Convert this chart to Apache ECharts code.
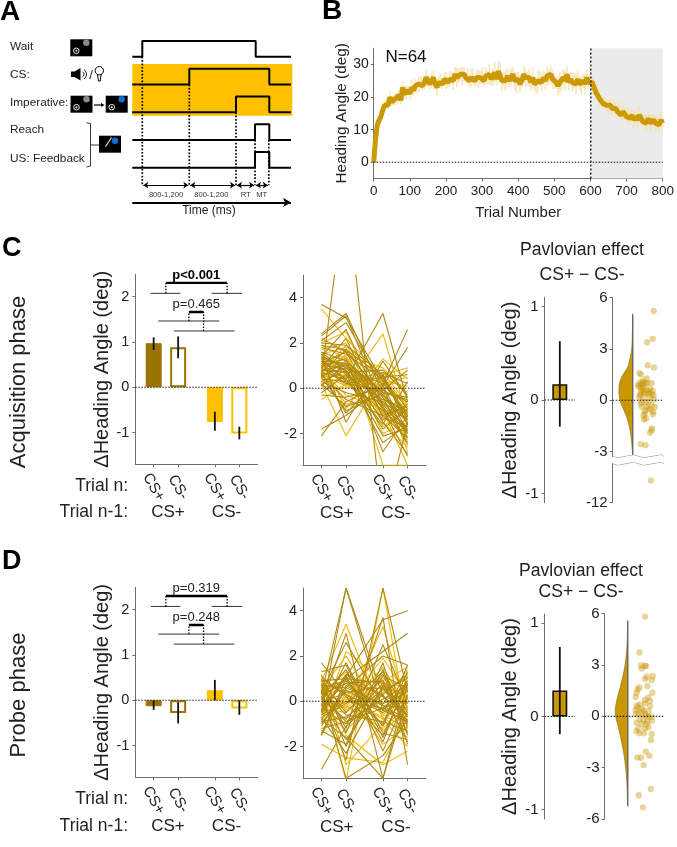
<!DOCTYPE html>
<html><head><meta charset="utf-8">
<style>html,body{margin:0;padding:0;background:#fff}#c{width:677px;height:847px}</style>
<script src="https://cdn.jsdelivr.net/npm/echarts@6/dist/echarts.min.js"></script>
</head><body><div id="c"></div>
<script>
// ---------- DATA ----------
const trialStep = 5;
const headingMean = [0,7,11.5,13,14,16,17.5,18,17.5,20,18.5,19,19.5,19,20.5,19,23,21,21.5,22,21,23,22,23.5,23,24,24.5,23.5,24.5,26,25,24,25,26,24,23,24.5,25,24,25.5,25,24.5,25.5,26,25,27,26,26.5,27,26.5,27,26,26.5,25,26,26.5,25,26,25.5,26,26.5,25,26.5,26,27,25.5,26,27.5,25.5,28,28.5,25,25.5,25,26.5,25,26,27,25,24.5,25.5,24,25,27,26,25.5,26,24.5,26,24,23.5,25,25.5,24.5,26,25,26.5,26,27,25.5,25,24.5,23.5,24.5,24,26,25,27,24.5,25.5,24.5,25,24,25.5,24,23.5,25,24,26,24.5,25,24.5,23,21.5,22,19.5,19,18,18.5,17.5,17,17.5,16.5,17,16.5,15.5,16,14.5,15.5,15,14,14.5,13.5,14.5,13,14,13,14.5,13.5,12.5,13,12,13.5,12,12.5,13,12,12.5,11.5,13,12];
const headingSem = [0,1,1.2,1,1.5,1.2,1,1.6,1.3,1.8,1.2,1.5,1.9,1.4,1.7,1.3,2,1.6,2.2,1.4,1.8,2.3,1.5,2,1.7,2.4,1.8,1.5,2.2,2.6,1.9,1.6,2.4,2,1.7,2.5,1.8,2.2,1.6,2.1,2.6,1.8,2.3,1.9,2.7,2.2,3,2.4,2,2.9,2.2,1.8,2.6,2,2.8,2.1,1.7,2.4,2.9,2,2.5,1.9,2.7,2.2,3,2.1,2.6,3.1,2,2.7,2.4,2.8,2.1,3.2,2.5,2,2.6,2.2,2.9,3.3,2.3,2.7,2,2.5,3,2.2,2.8,2.4,3.1,2,2.6,3.2,2.3,2.8,2.1,2.5,3,2.2,2.7,3.1,2.4,2,2.9,3.4,2.2,2.6,3,2.3,2.7,2.1,2.9,2.4,3.2,2.6,2,2.8,2.3,3,2.5,2.1,2.7,1.9,2.4,2,1.8,2.3,1.7,2.1,1.6,2,2.4,1.8,1.5,2.2,1.9,1.6,2.3,1.7,2.5,2,1.8,2.6,2.1,1.7,2.4,1.9,2.2,2.7,1.8,2.3,2,2.5,1.9,2.8,2.2,1.8,2.6,2,2.4,2.7,1.2];
const trialTicks = [0,100,200,300,400,500,600,700,800];
const headingTicks = [0,10,20,30];
const probeStart = 604, probeEnd = 800, phaseLine = 601;

const xPos = [1,2,3.5,4.5];
const catLabels = ['CS+','CS-','CS+','CS-'];
const acqMeans = [0.97,0.88,-0.77,-1.02];
const acqLow   = [0.82,0.64,-0.96,-1.15];
const acqHigh  = [1.10,1.12,-0.54,-0.87];
const probeMeans = [-0.13,-0.28,0.22,-0.18];
const probeLow   = [-0.21,-0.51,0,-0.32];
const probeHigh  = [0,-0.04,0.45,0];

const thinSegA = [[0.88,2.09,2.07],[3.37,4.62,2.07],[1.19,3.68,1.46],[1.82,4.3,1.24]];
const thickSegA = [[1.5,4,2.3],[2.44,3.04,1.66]];
const dropSegA = [[1.5,2.07,2.3],[4,2.07,2.3],[2.44,1.46,1.66],[3.04,1.24,1.66]];

const acqSubjects = [
[0.5,9,-6,-1.5],[3.7,3.1,0.3,-1.2],[3.5,2.2,0.5,-0.8],[2.4,3.3,-0.2,-2.0],[1.2,0.4,3.3,-0.6],[1.0,0.1,2.4,-1.3],
[-2.1,-0.6,0.2,2.6],[-1.8,-1.2,0.1,1.8],[0.2,-2.1,0.6,0.9],[2.3,3.2,-0.8,-2.4],[2.1,2.9,0.1,-1.9],[2.0,2.5,-1.0,-3.4],
[1.9,1.7,-0.4,-1.5],[1.8,1.5,0.4,-0.9],[1.7,2.0,-1.5,-2.6],[1.6,1.2,-0.2,-0.5],[1.5,0.6,-2.4,-1.6],[1.5,1.8,-3.4,-3.4],
[1.4,0.9,0.2,-1.1],[1.4,-1.5,1.2,-0.4],[1.3,1.4,-1.1,-2.1],[1.3,0.3,0.7,0.2],[1.2,1.1,-0.6,-1.8],[1.2,-0.9,1.3,0.4],
[1.1,0.8,-1.4,-0.7],[1.1,1.6,-0.3,-1.4],[1.0,0.5,0.1,-2.8],[1.0,1.3,-2.8,-1.2],[0.9,0.2,0.5,0.6],[0.9,-0.7,-0.5,-1.0],
[0.9,2.2,-1.3,-1.7],[0.8,0.7,0.8,-0.3],[0.8,-0.3,-0.9,-2.3],[0.8,1.0,-0.1,-0.6],[0.7,0.4,-1.6,0.3],[0.7,1.9,0.3,-1.3],
[0.7,-1.1,0.6,-1.6],[0.6,0.9,-0.7,-2.0],[0.6,0.1,0.2,0.5],[0.6,-0.5,-1.2,-0.8],[0.5,1.2,-0.4,-2.5],[0.5,0.6,0.4,-1.1],
[0.5,-1.0,-0.2,-0.4],[0.4,0.3,-1.0,-1.9],[0.4,1.5,0.9,-0.2],[0.3,-0.2,-0.6,-1.4],[0.3,0.8,-1.8,-0.9],[0.2,0.5,0.3,0.1],
[0.2,-0.8,-0.3,-1.2],[0.1,1.1,-0.9,-1.7],[0.1,0.0,0.7,-0.7],[-0.2,0.6,-0.5,-1.0],[-0.3,-0.4,0.0,-2.2],[-0.5,0.2,-1.1,-0.6],
[1.3,1.0,-1.5,-2.9],[1.6,0.7,-2.1,-1.8],[1.9,1.3,-0.7,-1.1],[2.2,1.6,-1.2,-2.2],[1.1,0.2,-0.1,0.8],[0.9,1.4,-2.0,-1.5],
[1.4,2.6,-0.9,-3.0],[0.7,1.7,0.5,-1.6],[1.2,0.8,-1.7,-0.9],[2.0,1.9,0.6,-1.4]];

const probeSubjects = [
[0.3,5.0,-0.4,-0.9],[-0.5,5.0,0.2,-0.6],[0.6,-3.5,5.0,-1.2],[0.2,-2.6,5.0,0.4],[1.7,0.3,-1.0,1.6],[0.9,3.4,-0.8,-2.0],
[-0.2,3.0,-3.4,0.8],[0.4,2.6,-0.2,-0.3],[-0.9,2.2,0.9,1.5],[0.8,-1.2,3.7,-2.8],[-0.4,1.1,3.6,4.0],[0.1,-0.3,3.3,-0.4],
[-1.5,1.0,2.2,3.0],[-1.4,0.6,2.0,1.6],[-1.9,-2.5,-2.7,-0.5],[-3.0,-1.1,0.3,-1.8],[0.5,-3.4,-2.4,-0.8],[1.2,-2.8,-1.0,0.6],
[0.7,-2.0,1.4,-1.5],[-0.8,-1.6,-3.4,0.2],[1.0,-1.5,-2.8,-2.2],[-0.6,1.1,-1.8,1.1],[0.3,0.8,0.9,-0.7],[-0.3,-0.5,1.0,0.5],
[0.9,1.0,0.8,-1.1],[-1.0,0.5,-0.4,0.9],[0.6,-0.2,-1.2,-0.2],[-0.1,0.4,0.6,-1.0],[0.2,-0.9,-0.3,0.7],[0.4,0.9,-0.6,0.3],
[-0.7,-0.1,1.3,-0.5],[1.1,0.2,-1.5,0.8],[-0.2,-1.3,0.4,1.1],[0.5,-0.6,-0.9,-1.3],[-0.5,1.2,0.2,-0.1],[0.8,-0.4,0.7,0.2],
[-1.1,0.7,-0.2,-0.8],[0.1,-0.8,1.1,0.6],[-0.4,0.1,-0.7,-1.6],[0.7,0.6,-0.1,0.4],[-0.9,-0.7,0.5,1.0],[0.3,1.3,-1.3,-0.4],
[-0.3,-1.0,0.8,-0.9],[1.0,0.3,-0.5,0.1],[-0.6,-0.2,1.5,-0.3],[0.2,1.0,-1.1,1.3],[-1.2,-0.9,0.1,0.7],[0.4,0.5,-1.9,-1.1],
[-0.1,-1.7,0.6,-0.6],[0.6,0.9,0.3,1.2],[-0.8,0.2,-0.8,0.0],[0.9,-0.5,1.2,-1.4],[-0.2,0.8,-0.4,0.5],[0.0,-0.3,0.9,-0.2],
[1.3,1.6,-1.6,0.9],[-1.3,-1.9,1.7,-1.9],[0.5,2.0,-0.6,-1.2],[-0.7,-2.3,0.7,-0.7],[0.2,1.4,-2.2,0.3],[-1.5,0.4,-0.1,1.4],
[0.8,-1.4,2.5,-0.1],[-0.4,1.7,-1.4,-1.7],[0.1,-0.1,1.9,0.2],[-0.6,0.0,-0.3,-0.9]];

const barDiffAcq = 0.17, barDiffAcqLow = -0.285, barDiffAcqHigh = 0.63;
const barDiffProbe = 0.28, barDiffProbeLow = -0.19, barDiffProbeHigh = 0.746;

const violinAcqY = [5,4,3,2.5,1.95,1.36,0.78,0,-0.6,-1.17,-1.75,-2.5,-3,-3.2];
const violinAcqW = [0,0.3,1,2.5,5,11,13.7,12.7,8.7,5,2.7,1,0.3,0];
const dotsAcqX = [41,40,34.3,35,41.3,26.7,28.3,34,30.7,28,25.7,29,34.7,39,27.3,31.3,37.3,29,40,32.3,35.7,39,27.3,30.7,36.7,40.7,28,33.3,39,42.3,29,35.7,32.3,40.7,30.7,40,33.3,31.3,39,37.3,28,32.7,38.3,25.7,30,34,37,26.7,29,34,38,32.3,35.7,31.3,28,33,30,41.3,39];
const dotsAcqY = [5.22,3.59,3.39,2.05,1.91,1.6,1.5,1.27,1.13,1.07,0.94,0.94,1.01,1.01,0.78,0.78,0.68,0.55,0.55,0.39,0.39,0.35,0.29,0.19,0.19,0.29,-0.19,-0.1,-0.29,-0.39,-0.39,-0.49,-0.62,-0.68,-0.88,-0.82,-1.07,-1.13,-1.66,-1.91,-2.57,-2.63,-10.7,0.82,0.68,0.58,0.49,0.19,-0.1,-0.39,-0.55,-0.78,-0.1,0.49,0.43,1.01,0.98,0.04,-1.76];

const violinProbeY = [5.54,4.27,3,1.93,1.15,0.47,0,-0.6,-1.4,-2.16,-2.94,-3.7,-4.5,-5.22];
const violinProbeW = [0,0.6,2.7,6.5,10,12.3,12,9.5,6.5,4,2.2,1,0.4,0];
const dotsProbeX = [40.3,34.7,36.3,37,40.3,41.3,40.3,48,42,47,42.7,34.7,33,32,31,47.7,43.7,40.3,45.3,35.3,32,33,40.3,45.3,31,31.3,33.7,37,40.3,43.7,47,32,38.7,37,42,33.7,40.3,43.7,34.7,39.3,47,46.3,41,44.7,32.7,36.3,39,46,34,38.3,37,41.3,44,47.3,35,39,31.7,42.5];
const dotsProbeY = [5.83,3.73,2.97,2.79,2.95,2.95,2.18,2.36,2.32,2.12,1.77,1.69,1.58,1.38,1.13,1.38,1.11,0.96,0.90,0.70,0.62,0.51,0.76,0.60,0.37,0.14,0.18,0.21,0.14,-0.02,-0.02,-0.37,-0.21,-0.45,-0.45,-0.70,-0.70,-0.64,-0.99,-0.99,-1.03,-1.38,-2.06,-2.30,-2.40,-2.42,-2.85,-4.24,-4.61,-5.32,0.45,0.05,0.30,-0.25,-0.15,0.35,-0.85,-0.30];

// Panel A timing (time in schematic units, rows numbered from top)
const tWait = [10,123.4], tCS = [57,137], tImp = [103.7,137], tReach = [122.7,137], tUS = [122.7,137];
const traceEnd = 158.7, stepHeight = 0.565;
const eventTimes = [10,57,103.7,122.7,136.5];
const eventRows = [1,2,3,4,4];

// ---------- STYLE ----------
const FONT = 'Liberation Sans';
const DARK = '#9B7300', AMBER = '#FFC000', GOLD = '#C99700', AXIS = '#6e6e6e', TXT = '#222';

const grids=[], xAxes=[], yAxes=[], series=[], gfx=[];
function addGrid(rect,x,y){
  grids.push(Object.assign({containLabel:false},rect));
  const i=grids.length-1;
  xAxes.push(Object.assign({gridIndex:i,type:'value',splitLine:{show:false}},x));
  yAxes.push(Object.assign({gridIndex:i,type:'value',splitLine:{show:false}},y));
  return i;
}
function seg(i,pts,color,width,type,z){
  series.push({type:'line',xAxisIndex:i,yAxisIndex:i,data:pts,symbol:'none',silent:true,z:z||3,animation:false,
    lineStyle:{color:color,width:width,type:type||'solid'}});
}
function errBars(i,xs,lows,highs,width){
  series.push({type:'custom',xAxisIndex:i,yAxisIndex:i,z:6,animation:false,silent:true,
    data:xs.map((x,k)=>[x,lows[k],highs[k]]),encode:{x:0,y:[1,2]},
    renderItem:(p,api)=>{const a=api.coord([api.value(0),api.value(1)]),b=api.coord([api.value(0),api.value(2)]);
      return {type:'line',shape:{x1:a[0],y1:a[1],x2:b[0],y2:b[1]},style:{stroke:'#111',lineWidth:width}};}});
}
function text(t,x,y,size,opt){
  gfx.push({type:'text',x:x,y:y,rotation:(opt&&opt.rot)||0,z:50,style:{text:t,fontFamily:FONT,fontSize:size,
    fontWeight:(opt&&opt.bold)?'bold':'normal',fill:(opt&&opt.fill)||TXT,
    textAlign:(opt&&opt.align)||'center',textVerticalAlign:'middle'}});
}
const axLine={show:true,onZero:false,lineStyle:{color:AXIS,width:1}};
const catLabel={fontFamily:FONT,fontSize:15,color:TXT,rotate:-60,align:'center',verticalAlign:'middle',margin:23,customValues:xPos,formatter:v=>catLabels[xPos.indexOf(v)]};

// ---------- PANEL A ----------
const gA=addGrid({left:132.3,top:28.95,width:160,height:180.4},
  {min:0,max:160,show:false},{min:0,max:6.5,inverse:true,show:false});
function traceOf(row,t){const b=row,h=row-stepHeight;
  return [[0,b],[t[0],b],[t[0],h],[t[1],h],[t[1],b],[traceEnd,b]];}
series.push({type:'line',xAxisIndex:gA,yAxisIndex:gA,data:traceOf(2,tCS),symbol:'none',animation:false,silent:true,z:3,
  lineStyle:{color:'#000',width:2},
  markArea:{silent:true,z:1,itemStyle:{color:AMBER,opacity:1},data:[[{coord:[-0.3,1.263]},{coord:[160,3.126]}]]}});
[[1,tWait],[3,tImp],[4,tReach],[5,tUS]].forEach(r=>seg(gA,traceOf(r[0],r[1]),'#000',2));
eventTimes.forEach((t,k)=>seg(gA,[[t,eventRows[k]],[t,5.63]],'#000',1.7,[1.7,1.7],4));
function arrowLine(x1,x2,r,syms,w,sz){
  series.push({type:'line',xAxisIndex:gA,yAxisIndex:gA,data:[],silent:true,animation:false,
    markLine:{silent:true,animation:false,symbol:syms,symbolSize:sz,label:{show:false},
      lineStyle:{color:'#000',width:w,type:'solid'},data:[[{coord:[x1,r]},{coord:[x2,r]}]]}});
}
for(let k=0;k<4;k++) arrowLine(eventTimes[k]+1,eventTimes[k+1]-1,5.63,['arrow','arrow'],1.2,[5,5]);
arrowLine(0,158.7,6.25,['none','arrow'],2,[7,8]);

// ---------- PANEL B ----------
const gB=addGrid({left:373.7,top:48.2,width:292.3,height:130.4},
  {min:0,max:800,name:'Trial Number',nameLocation:'middle',nameGap:27,nameTextStyle:{fontFamily:FONT,fontSize:15,color:TXT},
   axisLine:axLine,axisTick:{show:true,length:3,lineStyle:{color:AXIS},customValues:trialTicks},
   axisLabel:{fontFamily:FONT,fontSize:13.5,color:TXT,margin:6,customValues:trialTicks,showMinLabel:true,showMaxLabel:true}},
  {min:-5,max:35,name:'Heading Angle (deg)',nameLocation:'middle',nameGap:24,nameTextStyle:{fontFamily:FONT,fontSize:15.3,color:TXT},
   axisLine:axLine,axisTick:{show:true,length:3,lineStyle:{color:AXIS},customValues:headingTicks},
   axisLabel:{fontFamily:FONT,fontSize:14,color:TXT,margin:5,customValues:headingTicks}});
const trialX=headingMean.map((_,i)=>i*trialStep);
series.push({type:'custom',xAxisIndex:gB,yAxisIndex:gB,z:3,animation:false,silent:true,
  data:headingMean.map((m,i)=>[trialX[i],m-headingSem[i],m+headingSem[i]]),encode:{x:0,y:[1,2]},
  renderItem:(p,api)=>{const a=api.coord([api.value(0),api.value(1)]),b=api.coord([api.value(0),api.value(2)]);
    return {type:'line',shape:{x1:a[0],y1:a[1],x2:b[0],y2:b[1]},style:{stroke:'#f3e2ae',lineWidth:1.8,opacity:0.75}};},
  markArea:{silent:true,z:1,itemStyle:{color:'#ebebeb',opacity:1},data:[[{coord:[probeStart,-5]},{coord:[probeEnd,35]}]]}});
seg(gB,trialX.map((x,i)=>[x,headingMean[i]]),'#CC9A06',5,'solid',4);
seg(gB,[[0,0],[800,0]],'#111',1.1,[1.5,1.5],5);
seg(gB,[[phaseLine,-5],[phaseLine,35]],'#333',1.6,[2,2],5);
text('N=64',406,57.5,17,{fill:'#111'});

// ---------- PANELS C, D ----------
function barPanel(top,means,lows,highs){
  const i=addGrid({left:135.3,top:top,width:122.4,height:190},
    {min:0.25,max:5.25,axisLine:axLine,axisTick:{show:true,length:3,lineStyle:{color:AXIS},customValues:xPos},axisLabel:catLabel},
    {min:-1.7,max:2.49,name:'\u0394Heading Angle (deg)',nameLocation:'middle',nameGap:22,nameTextStyle:{fontFamily:FONT,fontSize:20,color:TXT},
     axisLine:axLine,axisTick:{show:true,length:3,lineStyle:{color:AXIS},customValues:[-1,0,1,2]},
     axisLabel:{fontFamily:FONT,fontSize:14.5,color:TXT,margin:6,customValues:[-1,0,1,2]}});
  const cols=[DARK,DARK,AMBER,AMBER], fill=[true,false,true,false];
  series.push({type:'bar',xAxisIndex:i,yAxisIndex:i,barWidth:16,z:3,animation:false,silent:true,
    data:means.map((m,k)=>({value:[xPos[k],m],itemStyle:fill[k]?{color:cols[k],borderColor:cols[k],borderWidth:1}:{color:'#fff',borderColor:cols[k],borderWidth:2}}))});
  errBars(i,xPos,lows,highs,1.8);
  seg(i,[[0.25,0],[5.25,0]],'#222',1.1,[1.5,1.5],5);
  thinSegA.forEach(s=>seg(i,[[s[0],s[2]],[s[1],s[2]]],'#333',1));
  thickSegA.forEach(s=>seg(i,[[s[0],s[2]],[s[1],s[2]]],'#000',2.4));
  dropSegA.forEach(s=>seg(i,[[s[0],s[1]],[s[0],s[2]]],'#000',1.3,[1.5,1.5]));
  return i;
}
function linePanel(top,rows){
  const i=addGrid({left:303,top:top,width:123,height:190.3},
    {min:0.25,max:5.25,axisLine:axLine,axisTick:{show:true,length:3,lineStyle:{color:AXIS},customValues:xPos},axisLabel:catLabel},
    {min:-3.4,max:5,axisLine:axLine,axisTick:{show:true,length:3,lineStyle:{color:AXIS},customValues:[-2,0,2,4]},
     axisLabel:{fontFamily:FONT,fontSize:14.5,color:TXT,margin:6,customValues:[-2,0,2,4]}});
  rows.forEach((r,k)=>seg(i,r.map((v,j)=>[xPos[j],v]),k%3===2?'#F2B705':'#B08A10',1.1,'solid',k%3===2?3:4));
  seg(i,[[0.25,0],[5.25,0]],'#222',1.1,[1.5,1.5],5);
  return i;
}
barPanel(274.3,acqMeans,acqLow,acqHigh);
barPanel(587.4,probeMeans,probeLow,probeHigh);
linePanel(275,acqSubjects);
linePanel(588,probeSubjects);

// ---------- PAVLOVIAN EFFECT ----------
function diffPanel(top,h,val,lo,hi){
  const i=addGrid({left:544.5,top:top,width:30.6,height:h},
    {min:0,max:1,show:false},
    {min:-1.1,max:1.1,name:'\u0394Heading Angle (deg)',nameLocation:'middle',nameGap:24,nameTextStyle:{fontFamily:FONT,fontSize:20,color:TXT},
     axisLine:axLine,axisTick:{show:true,length:3,lineStyle:{color:AXIS},customValues:[-1,0,1]},
     axisLabel:{fontFamily:FONT,fontSize:15,color:TXT,margin:6,customValues:[-1,0,1]}});
  series.push({type:'bar',xAxisIndex:i,yAxisIndex:i,barWidth:15,z:3,animation:false,silent:true,
    data:[{value:[0.5,val],itemStyle:{color:GOLD,borderColor:'#111',borderWidth:1.6}}]});
  errBars(i,[0.5],[lo],[hi],1.8);
  seg(i,[[0,0],[1,0]],'#222',1.1,[1.5,1.5],5);
}
diffPanel(297.3,205.4,barDiffAcq,barDiffAcqLow,barDiffAcqHigh);
diffPanel(614,205,barDiffProbe,barDiffProbeLow,barDiffProbeHigh);

function cloud(i,spine,vy,vw,dx,dy,range){
  series.push({type:'custom',xAxisIndex:i,yAxisIndex:i,z:3,animation:false,silent:true,data:[[spine,0]],encode:{x:0,y:1},
    renderItem:(p,api)=>({type:'polygon',shape:{smooth:0.4,points:vy.map((y,k)=>api.coord([spine-vw[k],y]))},style:{fill:GOLD,stroke:'#7d6a2a',lineWidth:0.6}})});
  seg(i,[[spine,vy[0]],[spine,vy[vy.length-1]]],'#666',1.3,'solid',4);
  series.push({type:'scatter',xAxisIndex:i,yAxisIndex:i,z:5,symbolSize:6.4,animation:false,silent:true,
    itemStyle:{color:'rgba(201,151,0,0.5)'},data:dx.map((x,k)=>[x,dy[k]])});
  seg(i,[[0,0],[range,0]],'#222',1.1,[1.5,1.5],6);
}
const gCloudA=addGrid({left:612.7,top:297.7,width:51,height:205},
  {min:0,max:51,show:false},
  {min:-12,max:6,axisLine:axLine,axisTick:{show:true,length:3,lineStyle:{color:AXIS},customValues:[-12,-3,0,3,6]},
   axisLabel:{fontFamily:FONT,fontSize:15,color:TXT,margin:5,customValues:[-12,-3,0,3,6]},
   breaks:[{start:-9.7,end:-3.3,gap:0.4}],
   breakArea:{show:true,expandOnClick:false,zigzagAmplitude:1.5,zigzagZ:200,itemStyle:{color:'#fff',borderColor:'#888',borderWidth:1,borderType:'solid',opacity:1}}});
cloud(gCloudA,20,violinAcqY,violinAcqW,dotsAcqX,dotsAcqY,51);
const gCloudB=addGrid({left:604.7,top:613.7,width:59,height:205.3},
  {min:0,max:59,show:false},
  {min:-6,max:6,axisLine:axLine,axisTick:{show:true,length:3,lineStyle:{color:AXIS},customValues:[-6,-3,0,3,6]},
   axisLabel:{fontFamily:FONT,fontSize:15,color:TXT,margin:5,customValues:[-6,-3,0,3,6]}});
cloud(gCloudB,23,violinProbeY,violinProbeW,dotsProbeX,dotsProbeY,59);

// ---------- TEXT ----------
text('A',0,12,28,{bold:true,align:'left',fill:'#000'});
text('B',322,11,28,{bold:true,align:'left',fill:'#000'});
text('C',2,249,27,{bold:true,align:'left',fill:'#000'});
text('D',2,562,27,{bold:true,align:'left',fill:'#000'});
[['Wait',47],['CS:',75],['Imperative:',102.5],['Reach',130],['US: Feedback',159]].forEach(r=>text(r[0],10,r[1],11.8,{align:'left'}));
[['800-1,200',166],['800-1,200',211.3],['RT',245.7],['MT',261.7]].forEach(r=>text(r[0],r[1],195,7.6,{fill:'#333'}));
text('Time (ms)',209,211,12);
text('Acquisition phase',19,382,22,{rot:Math.PI/2});
text('Probe phase',19,695,22,{rot:Math.PI/2});
[[486,512],[799,826]].forEach(y=>{
  text('Trial n:',128,y[0],17.5,{align:'right'});
  text('Trial n-1:',128,y[1],17.5,{align:'right'});
  text('CS+',168,y[1],17); text('CS-',226.5,y[1],17);
  text('CS+',336.7,y[1]+1.5,17); text('CS-',396,y[1]+1.5,17);
});
text('p<0.001',196.3,275,13,{bold:true,fill:'#000'});
text('p=0.465',196.3,304,13);
text('p=0.319',196.3,588,13);
text('p=0.248',196.3,617,13);
text('Pavlovian effect',582,250,17.6);
text('CS+ \u2212 CS-',582,275,17.6);
text('Pavlovian effect',581,571,17.6);
text('CS+ \u2212 CS-',581,592,17.6);

// ---------- ICONS (panel A) ----------
function screen(x,y,dot,dotCol,ring){
  gfx.push({type:'rect',z:40,shape:{x:x,y:y,width:22,height:17},style:{fill:'#000'}});
  if(dot) gfx.push({type:'circle',z:41,shape:{cx:x+dot[0],cy:y+dot[1],r:3.2},style:{fill:dotCol}});
  if(ring){gfx.push({type:'circle',z:41,shape:{cx:x+6,cy:y+11.5,r:2.8},style:{fill:'none',stroke:'#eee',lineWidth:1}});
    gfx.push({type:'circle',z:41,shape:{cx:x+6,cy:y+11.5,r:1},style:{fill:'#eee'}});}
}
screen(70.3,39.3,[16,3.5],'#8a8a8a',true);
screen(70.5,95.7,[16,3.5],'#8a8a8a',true);
screen(105.7,95.7,[16,3.5],'#0a6fd0',true);
screen(99,135.7,[16,5],'#0a6fd0',false);
gfx.push({type:'line',z:42,shape:{x1:105.5,y1:146.5,x2:111.5,y2:137.5},style:{stroke:'#ddd',lineWidth:1.2}});
gfx.push({type:'line',z:42,shape:{x1:94,y1:105,x2:102,y2:105},style:{stroke:'#000',lineWidth:1.2}});
gfx.push({type:'polygon',z:42,shape:{points:[[104.5,105],[101,103],[101,107]]},style:{fill:'#000'}});
gfx.push({type:'polygon',z:42,shape:{points:[[71,71.5],[74.5,71.5],[80.5,68],[80.5,80.5],[74.5,77],[71,77]]},style:{fill:'#000'}});
[3,5.5].forEach(r=>gfx.push({type:'arc',z:42,shape:{cx:81,cy:74.3,r:r,startAngle:-1,endAngle:1},style:{fill:'none',stroke:'#000',lineWidth:0.9}}));
text('/',91,75,13);
gfx.push({type:'circle',z:42,shape:{cx:99.3,cy:70.7,r:4.2},style:{fill:'#fff',stroke:'#000',lineWidth:1}});
gfx.push({type:'polyline',z:42,shape:{points:[[97.5,74.5],[98.5,81],[100.2,81],[101.2,74.5]]},style:{fill:'none',stroke:'#000',lineWidth:1}});
gfx.push({type:'polyline',z:42,shape:{points:[[86.5,122.7],[90.5,123.5],[90.5,166],[86.5,167]]},style:{fill:'none',stroke:'#222',lineWidth:0.9}});
gfx.push({type:'line',z:42,shape:{x1:90.5,y1:145,x2:99,y2:145},style:{stroke:'#222',lineWidth:0.9}});

const chart=echarts.init(document.getElementById('c'),null,{renderer:'canvas'});
chart.setOption({animation:false,backgroundColor:'#fff',grid:grids,xAxis:xAxes,yAxis:yAxes,series:series,graphic:{elements:gfx}});
</script></body></html>
